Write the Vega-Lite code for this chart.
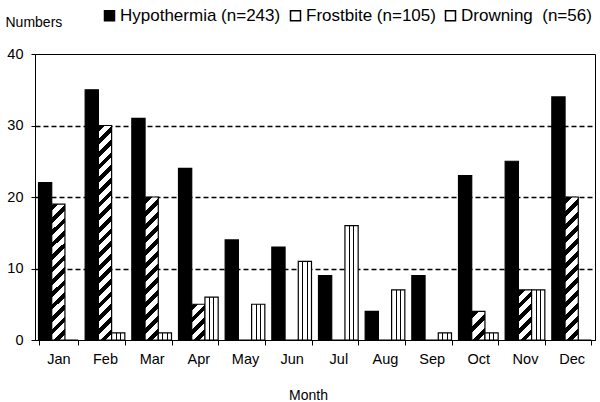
{
  "$schema": "https://vega.github.io/schema/vega-lite/v6.json",
  "width": 560,
  "height": 286,
  "autosize": "none",
  "padding": {"left": 35, "top": 54, "right": 5, "bottom": 62},
  "background": "white",
  "config": {
    "font": "Liberation Sans",
    "view": {"stroke": "black", "strokeWidth": 1},
    "axis": {"domainColor": "black", "tickColor": "black", "labelColor": "black", "titleColor": "black", "labelFont": "Liberation Sans", "titleFont": "Liberation Sans", "titleFontWeight": "normal"}
  },
  "data": {"values": [
    {"month": "Jan", "series": "Hypothermia", "value": 22},
    {"month": "Jan", "series": "Frostbite", "value": 19},
    {"month": "Jan", "series": "Drowning", "value": 0},
    {"month": "Feb", "series": "Hypothermia", "value": 35},
    {"month": "Feb", "series": "Frostbite", "value": 30},
    {"month": "Feb", "series": "Drowning", "value": 1},
    {"month": "Mar", "series": "Hypothermia", "value": 31},
    {"month": "Mar", "series": "Frostbite", "value": 20},
    {"month": "Mar", "series": "Drowning", "value": 1},
    {"month": "Apr", "series": "Hypothermia", "value": 24},
    {"month": "Apr", "series": "Frostbite", "value": 5},
    {"month": "Apr", "series": "Drowning", "value": 6},
    {"month": "May", "series": "Hypothermia", "value": 14},
    {"month": "May", "series": "Frostbite", "value": 0},
    {"month": "May", "series": "Drowning", "value": 5},
    {"month": "Jun", "series": "Hypothermia", "value": 13},
    {"month": "Jun", "series": "Frostbite", "value": 0},
    {"month": "Jun", "series": "Drowning", "value": 11},
    {"month": "Jul", "series": "Hypothermia", "value": 9},
    {"month": "Jul", "series": "Frostbite", "value": 0},
    {"month": "Jul", "series": "Drowning", "value": 16},
    {"month": "Aug", "series": "Hypothermia", "value": 4},
    {"month": "Aug", "series": "Frostbite", "value": 0},
    {"month": "Aug", "series": "Drowning", "value": 7},
    {"month": "Sep", "series": "Hypothermia", "value": 9},
    {"month": "Sep", "series": "Frostbite", "value": 0},
    {"month": "Sep", "series": "Drowning", "value": 1},
    {"month": "Oct", "series": "Hypothermia", "value": 23},
    {"month": "Oct", "series": "Frostbite", "value": 4},
    {"month": "Oct", "series": "Drowning", "value": 1},
    {"month": "Nov", "series": "Hypothermia", "value": 25},
    {"month": "Nov", "series": "Frostbite", "value": 7},
    {"month": "Nov", "series": "Drowning", "value": 7},
    {"month": "Dec", "series": "Hypothermia", "value": 34},
    {"month": "Dec", "series": "Frostbite", "value": 20},
    {"month": "Dec", "series": "Drowning", "value": 0}
  ]},
  "mark": {"type": "bar", "stroke": "black", "strokeWidth": 1.2},
  "encoding": {
    "x": {
      "field": "month", "type": "nominal",
      "sort": ["Jan","Feb","Mar","Apr","May","Jun","Jul","Aug","Sep","Oct","Nov","Dec"],
      "scale": {"paddingInner": 0.15, "paddingOuter": 0.075},
      "axis": {"title": "Month", "labelAngle": 0, "tickBand": "extent", "tickSize": 5, "labelPadding": 7, "labelFontSize": 14.5, "titleFontSize": 14, "titleX": 273, "titleY": 59, "titleBaseline": "alphabetic", "titleAlign": "center", "grid": false}
    },
    "xOffset": {"field": "series", "type": "nominal", "sort": ["Hypothermia","Frostbite","Drowning"], "scale": {"paddingInner": 0, "paddingOuter": 0}},
    "y": {
      "field": "value", "type": "quantitative",
      "scale": {"domain": [0, 40], "nice": false},
      "axis": {"values": [0,10,20,30,40], "grid": true, "gridColor": "black", "gridDash": [5,3], "gridWidth": 1.3,
        "gridOpacity": {"condition": {"test": "datum.value === 0 || datum.value === 40", "value": 0}, "value": 1},
        "tickSize": 4, "labelPadding": 8, "labelFontSize": 14.5,
        "title": "Numbers", "titleAngle": 0, "titleAlign": "left", "titleBaseline": "alphabetic", "titleX": -30, "titleY": -28, "titleFontSize": 14}
    },
    "fill": {
      "field": "series", "type": "nominal",
      "scale": {"domain": ["Hypothermia","Frostbite","Drowning"], "range": ["black","white","white"]},
      "condition": [
        {"test": "datum.series === 'Drowning'", "value": {"gradient": "linear", "x1": 0, "y1": 0, "x2": 1, "y2": 0, "stops": [
          {"offset": 0.3, "color": "#fff"}, {"offset": 0.3, "color": "#000"}, {"offset": 0.37, "color": "#000"}, {"offset": 0.37, "color": "#fff"},
          {"offset": 0.63, "color": "#fff"}, {"offset": 0.63, "color": "#000"}, {"offset": 0.7, "color": "#000"}, {"offset": 0.7, "color": "#fff"}]}},
        {"test": "datum.series === 'Frostbite' && datum.value === 30", "value": {"gradient": "linear", "x1": 0, "y1": 0, "x2": 0.0652, "y2": 1.0576, "stops": [
          {"offset": 0.0056, "color": "#fff"}, {"offset": 0.0056, "color": "#000"}, {"offset": 0.0306, "color": "#000"}, {"offset": 0.0306, "color": "#fff"},
          {"offset": 0.0611, "color": "#fff"}, {"offset": 0.0611, "color": "#000"}, {"offset": 0.0861, "color": "#000"}, {"offset": 0.0861, "color": "#fff"},
          {"offset": 0.1167, "color": "#fff"}, {"offset": 0.1167, "color": "#000"}, {"offset": 0.1417, "color": "#000"}, {"offset": 0.1417, "color": "#fff"},
          {"offset": 0.1722, "color": "#fff"}, {"offset": 0.1722, "color": "#000"}, {"offset": 0.1972, "color": "#000"}, {"offset": 0.1972, "color": "#fff"},
          {"offset": 0.2278, "color": "#fff"}, {"offset": 0.2278, "color": "#000"}, {"offset": 0.2528, "color": "#000"}, {"offset": 0.2528, "color": "#fff"},
          {"offset": 0.2833, "color": "#fff"}, {"offset": 0.2833, "color": "#000"}, {"offset": 0.3083, "color": "#000"}, {"offset": 0.3083, "color": "#fff"},
          {"offset": 0.3389, "color": "#fff"}, {"offset": 0.3389, "color": "#000"}, {"offset": 0.3639, "color": "#000"}, {"offset": 0.3639, "color": "#fff"},
          {"offset": 0.3944, "color": "#fff"}, {"offset": 0.3944, "color": "#000"}, {"offset": 0.4194, "color": "#000"}, {"offset": 0.4194, "color": "#fff"},
          {"offset": 0.45, "color": "#fff"}, {"offset": 0.45, "color": "#000"}, {"offset": 0.475, "color": "#000"}, {"offset": 0.475, "color": "#fff"},
          {"offset": 0.5056, "color": "#fff"}, {"offset": 0.5056, "color": "#000"}, {"offset": 0.5306, "color": "#000"}, {"offset": 0.5306, "color": "#fff"},
          {"offset": 0.5611, "color": "#fff"}, {"offset": 0.5611, "color": "#000"}, {"offset": 0.5861, "color": "#000"}, {"offset": 0.5861, "color": "#fff"},
          {"offset": 0.6167, "color": "#fff"}, {"offset": 0.6167, "color": "#000"}, {"offset": 0.6417, "color": "#000"}, {"offset": 0.6417, "color": "#fff"},
          {"offset": 0.6722, "color": "#fff"}, {"offset": 0.6722, "color": "#000"}, {"offset": 0.6972, "color": "#000"}, {"offset": 0.6972, "color": "#fff"},
          {"offset": 0.7278, "color": "#fff"}, {"offset": 0.7278, "color": "#000"}, {"offset": 0.7528, "color": "#000"}, {"offset": 0.7528, "color": "#fff"},
          {"offset": 0.7833, "color": "#fff"}, {"offset": 0.7833, "color": "#000"}, {"offset": 0.8083, "color": "#000"}, {"offset": 0.8083, "color": "#fff"},
          {"offset": 0.8389, "color": "#fff"}, {"offset": 0.8389, "color": "#000"}, {"offset": 0.8639, "color": "#000"}, {"offset": 0.8639, "color": "#fff"},
          {"offset": 0.8944, "color": "#fff"}, {"offset": 0.8944, "color": "#000"}, {"offset": 0.9194, "color": "#000"}, {"offset": 0.9194, "color": "#fff"},
          {"offset": 0.95, "color": "#fff"}, {"offset": 0.95, "color": "#000"}, {"offset": 0.975, "color": "#000"}, {"offset": 0.975, "color": "#fff"}]}},
        {"test": "datum.series === 'Frostbite' && (datum.value === 19 || datum.value === 20)", "value": {"gradient": "linear", "x1": 0, "y1": 0, "x2": 0.1024, "y2": 1.0848, "stops": [
          {"offset": 0.0083, "color": "#fff"}, {"offset": 0.0083, "color": "#000"}, {"offset": 0.0458, "color": "#000"}, {"offset": 0.0458, "color": "#fff"},
          {"offset": 0.0917, "color": "#fff"}, {"offset": 0.0917, "color": "#000"}, {"offset": 0.1292, "color": "#000"}, {"offset": 0.1292, "color": "#fff"},
          {"offset": 0.175, "color": "#fff"}, {"offset": 0.175, "color": "#000"}, {"offset": 0.2125, "color": "#000"}, {"offset": 0.2125, "color": "#fff"},
          {"offset": 0.2583, "color": "#fff"}, {"offset": 0.2583, "color": "#000"}, {"offset": 0.2958, "color": "#000"}, {"offset": 0.2958, "color": "#fff"},
          {"offset": 0.3417, "color": "#fff"}, {"offset": 0.3417, "color": "#000"}, {"offset": 0.3792, "color": "#000"}, {"offset": 0.3792, "color": "#fff"},
          {"offset": 0.425, "color": "#fff"}, {"offset": 0.425, "color": "#000"}, {"offset": 0.4625, "color": "#000"}, {"offset": 0.4625, "color": "#fff"},
          {"offset": 0.5083, "color": "#fff"}, {"offset": 0.5083, "color": "#000"}, {"offset": 0.5458, "color": "#000"}, {"offset": 0.5458, "color": "#fff"},
          {"offset": 0.5917, "color": "#fff"}, {"offset": 0.5917, "color": "#000"}, {"offset": 0.6292, "color": "#000"}, {"offset": 0.6292, "color": "#fff"},
          {"offset": 0.675, "color": "#fff"}, {"offset": 0.675, "color": "#000"}, {"offset": 0.7125, "color": "#000"}, {"offset": 0.7125, "color": "#fff"},
          {"offset": 0.7583, "color": "#fff"}, {"offset": 0.7583, "color": "#000"}, {"offset": 0.7958, "color": "#000"}, {"offset": 0.7958, "color": "#fff"},
          {"offset": 0.8417, "color": "#fff"}, {"offset": 0.8417, "color": "#000"}, {"offset": 0.8792, "color": "#000"}, {"offset": 0.8792, "color": "#fff"},
          {"offset": 0.925, "color": "#fff"}, {"offset": 0.925, "color": "#000"}, {"offset": 0.9625, "color": "#000"}, {"offset": 0.9625, "color": "#fff"}]}},
        {"test": "datum.series === 'Frostbite' && datum.value === 5", "value": {"gradient": "linear", "x1": 0, "y1": 0, "x2": 0.4456, "y2": 1.205, "stops": [
          {"offset": 0.025, "color": "#fff"}, {"offset": 0.025, "color": "#000"}, {"offset": 0.1375, "color": "#000"}, {"offset": 0.1375, "color": "#fff"},
          {"offset": 0.275, "color": "#fff"}, {"offset": 0.275, "color": "#000"}, {"offset": 0.3875, "color": "#000"}, {"offset": 0.3875, "color": "#fff"},
          {"offset": 0.525, "color": "#fff"}, {"offset": 0.525, "color": "#000"}, {"offset": 0.6375, "color": "#000"}, {"offset": 0.6375, "color": "#fff"},
          {"offset": 0.775, "color": "#fff"}, {"offset": 0.775, "color": "#000"}, {"offset": 0.8875, "color": "#000"}, {"offset": 0.8875, "color": "#fff"}]}},
        {"test": "datum.series === 'Frostbite' && datum.value === 4", "value": {"gradient": "linear", "x1": 0, "y1": 0, "x2": 0.5569, "y2": 1.2048, "stops": [
          {"offset": 0.0333, "color": "#fff"}, {"offset": 0.0333, "color": "#000"}, {"offset": 0.1833, "color": "#000"}, {"offset": 0.1833, "color": "#fff"},
          {"offset": 0.3667, "color": "#fff"}, {"offset": 0.3667, "color": "#000"}, {"offset": 0.5167, "color": "#000"}, {"offset": 0.5167, "color": "#fff"},
          {"offset": 0.7, "color": "#fff"}, {"offset": 0.7, "color": "#000"}, {"offset": 0.85, "color": "#000"}, {"offset": 0.85, "color": "#fff"}]}},
        {"test": "datum.series === 'Frostbite' && datum.value === 7", "value": {"gradient": "linear", "x1": 0, "y1": 0, "x2": 0.3121, "y2": 1.1817, "stops": [
          {"offset": 0.02, "color": "#fff"}, {"offset": 0.02, "color": "#000"}, {"offset": 0.11, "color": "#000"}, {"offset": 0.11, "color": "#fff"},
          {"offset": 0.22, "color": "#fff"}, {"offset": 0.22, "color": "#000"}, {"offset": 0.31, "color": "#000"}, {"offset": 0.31, "color": "#fff"},
          {"offset": 0.42, "color": "#fff"}, {"offset": 0.42, "color": "#000"}, {"offset": 0.51, "color": "#000"}, {"offset": 0.51, "color": "#fff"},
          {"offset": 0.62, "color": "#fff"}, {"offset": 0.62, "color": "#000"}, {"offset": 0.71, "color": "#000"}, {"offset": 0.71, "color": "#fff"},
          {"offset": 0.82, "color": "#fff"}, {"offset": 0.82, "color": "#000"}, {"offset": 0.91, "color": "#000"}, {"offset": 0.91, "color": "#fff"}]}}
      ],
      "legend": {
        "orient": "none", "legendX": 66, "legendY": -47, "direction": "horizontal", "title": null, "padding": 0,
        "symbolType": "square", "symbolSize": 100,
        "labelFont": "Liberation Sans", "labelFontSize": 17, "labelColor": "black", "labelOffset": 2, "columnPadding": 6, "labelLimit": 400,
        "labelExpr": "datum.label === 'Hypothermia' ? 'Hypothermia (n=243)' : datum.label === 'Frostbite' ? 'Frostbite (n=105)' : 'Drowning\u00a0 (n=56)'",
        "encode": {"symbols": {
          "fill": {"value": "black"},
          "stroke": {"value": "transparent"},
          "strokeWidth": {"value": 0},
          "opacity": {"value": 1},
          "shape": {
            "condition": [
              {"test": "datum.value === 'Frostbite'", "value": "M-1,-1L1,-1L1,-0.8L-1,-0.8Z M-1,0.8L1,0.8L1,1L-1,1Z M-1,-0.8L-0.8,-0.8L-0.8,0.8L-1,0.8Z M0.8,-0.8L1,-0.8L1,0.8L0.8,0.8Z M0.8,-0.6L0.8,0.8L-0.6,0.8Z"},
              {"test": "datum.value === 'Drowning'", "value": "M-1,-1L1,-1L1,-0.8L-1,-0.8Z M-1,0.8L1,0.8L1,1L-1,1Z M-1,-0.8L-0.8,-0.8L-0.8,0.8L-1,0.8Z M0.8,-0.8L1,-0.8L1,0.8L0.8,0.8Z M-0.42,-0.8L-0.22,-0.8L-0.22,0.8L-0.42,0.8Z M0.22,-0.8L0.42,-0.8L0.42,0.8L0.22,0.8Z"}
            ],
            "value": "M-1,-1L1,-1L1,1L-1,1Z"
          }
        }}
      }
    }
  }
}
